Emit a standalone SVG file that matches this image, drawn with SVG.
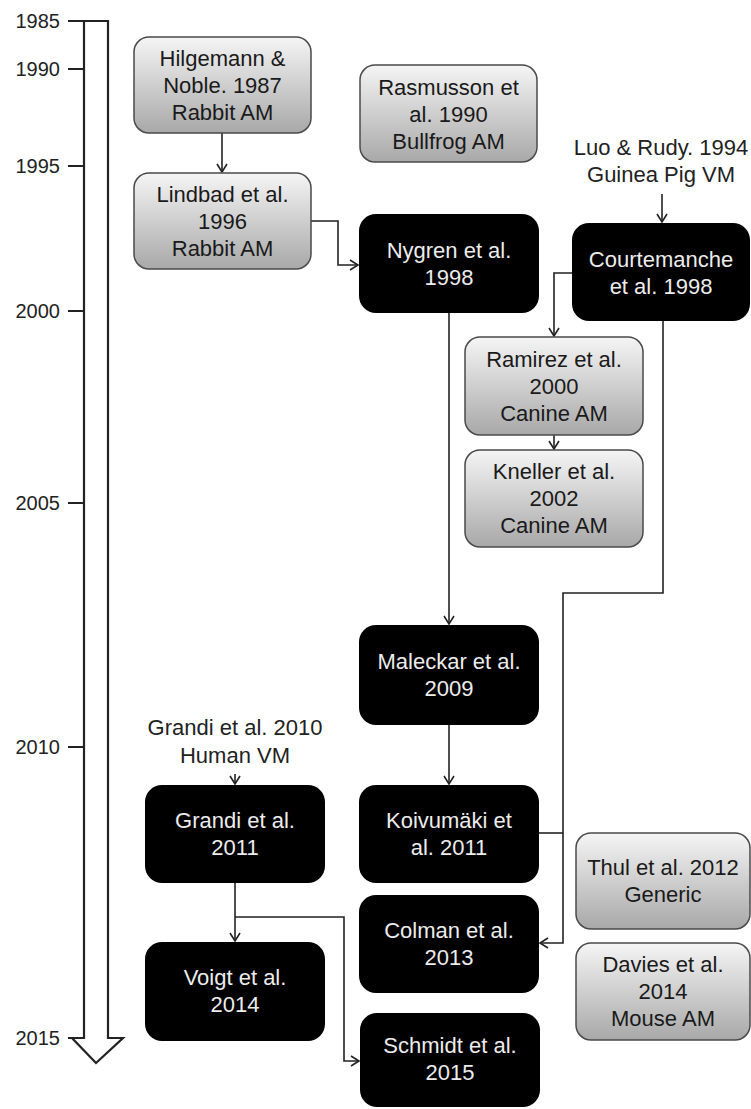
<svg xmlns="http://www.w3.org/2000/svg" width="751" height="1109" viewBox="0 0 751 1109">
<defs>
<linearGradient id="g" x1="0" y1="0" x2="0" y2="1">
<stop offset="0" stop-color="#f5f5f5"/>
<stop offset="1" stop-color="#a8a8a8"/>
</linearGradient>
<marker id="ah" markerUnits="userSpaceOnUse" markerWidth="14" markerHeight="14" refX="9" refY="6" orient="auto">
<path d="M1,1 L9,6 L1,11" fill="none" stroke="#222" stroke-width="1.6"/>
</marker>
<style>
text{font-family:"Liberation Sans",Arial,sans-serif;font-size:22px;text-anchor:middle}
.grey rect{fill:url(#g);stroke:#4a4a4a;stroke-width:1.5}
.grey text{fill:#1a1a1a}
.black rect{fill:#000}
.black text{fill:#ececec}
.yr{font-size:20px;text-anchor:end;fill:#222}
.lbl{fill:#222}
.conn path{fill:none;stroke:#222;stroke-width:1.6}
.axis{fill:none;stroke:#222;stroke-width:2.2}
</style>
</defs>
<rect width="751" height="1109" fill="#fff"/>

<g id="timeline">
<path class="axis" d="M84,21 H108 V1038 H123 L96,1063 L72,1038 H84 Z"/>
<path class="axis" d="M68,21 H84 M68,69 H84 M68,166 H84 M68,311 H84 M68,503 H84 M68,747 H84 M68,1038 H84"/>
<text class="yr" x="60" y="28">1985</text>
<text class="yr" x="60" y="76">1990</text>
<text class="yr" x="60" y="173">1995</text>
<text class="yr" x="60" y="318">2000</text>
<text class="yr" x="60" y="510">2005</text>
<text class="yr" x="60" y="754">2010</text>
<text class="yr" x="60" y="1045">2015</text>
</g>

<g class="conn" id="connectors">
<path d="M222,133 V172" marker-end="url(#ah)"/>
<path d="M311,221 H338 V265 H358" marker-end="url(#ah)"/>
<path d="M662,194 V222" marker-end="url(#ah)"/>
<path d="M572,273 H554 V336" marker-end="url(#ah)"/>
<path d="M554,435 V449" marker-end="url(#ah)"/>
<path d="M449,313 V624" marker-end="url(#ah)"/>
<path d="M663,321 V593 H563 V943 H540" marker-end="url(#ah)"/>
<path d="M539,833 H563"/>
<path d="M449,725 V784" marker-end="url(#ah)"/>
<path d="M235,774 V784" marker-end="url(#ah)"/>
<path d="M235,883 V941" marker-end="url(#ah)"/>
<path d="M235,917 H344 V1061 H359" marker-end="url(#ah)"/>
</g>

<g id="hilgemann" class="grey">
<rect x="134" y="37" width="177" height="96" rx="15"/>
<text x="222.5" y="66">Hilgemann &amp;</text>
<text x="222.5" y="93">Noble. 1987</text>
<text x="222.5" y="120">Rabbit AM</text>
</g>
<g id="rasmusson" class="grey">
<rect x="360" y="65" width="177" height="97" rx="15"/>
<text x="448.5" y="95">Rasmusson et</text>
<text x="448.5" y="122">al. 1990</text>
<text x="448.5" y="149">Bullfrog AM</text>
</g>
<g id="lindbad" class="grey">
<rect x="134" y="173" width="177" height="96" rx="15"/>
<text x="222.5" y="202">Lindbad et al.</text>
<text x="222.5" y="229">1996</text>
<text x="222.5" y="256">Rabbit AM</text>
</g>
<g id="nygren" class="black">
<rect x="359" y="214" width="180" height="99" rx="17"/>
<text x="449" y="258">Nygren et al.</text>
<text x="449" y="285">1998</text>
</g>
<g id="luo-rudy">
<text class="lbl" x="661" y="155">Luo &amp; Rudy. 1994</text>
<text class="lbl" x="661" y="182">Guinea Pig VM</text>
</g>
<g id="courtemanche" class="black">
<rect x="572" y="223" width="178" height="98" rx="17"/>
<text x="661" y="267">Courtemanche</text>
<text x="661" y="294">et al. 1998</text>
</g>
<g id="ramirez" class="grey">
<rect x="465" y="337" width="178" height="98" rx="15"/>
<text x="554" y="367">Ramirez et al.</text>
<text x="554" y="394">2000</text>
<text x="554" y="421">Canine AM</text>
</g>
<g id="kneller" class="grey">
<rect x="465" y="450" width="178" height="97" rx="15"/>
<text x="554" y="479">Kneller et al.</text>
<text x="554" y="506">2002</text>
<text x="554" y="533">Canine AM</text>
</g>
<g id="maleckar" class="black">
<rect x="359" y="625" width="180" height="100" rx="17"/>
<text x="449" y="669">Maleckar et al.</text>
<text x="449" y="696">2009</text>
</g>
<g id="grandi2010">
<text class="lbl" x="235" y="735">Grandi et al. 2010</text>
<text class="lbl" x="235" y="763">Human VM</text>
</g>
<g id="grandi2011" class="black">
<rect x="145" y="785" width="180" height="98" rx="17"/>
<text x="235" y="828">Grandi et al.</text>
<text x="235" y="855">2011</text>
</g>
<g id="koivumaki" class="black">
<rect x="359" y="785" width="180" height="98" rx="17"/>
<text x="449" y="828">Koivumäki et</text>
<text x="449" y="855">al. 2011</text>
</g>
<g id="thul" class="grey">
<rect x="576" y="833" width="174" height="96" rx="15"/>
<text x="663" y="875">Thul et al. 2012</text>
<text x="663" y="902">Generic</text>
</g>
<g id="colman" class="black">
<rect x="359" y="895" width="180" height="98" rx="17"/>
<text x="449" y="938">Colman et al.</text>
<text x="449" y="965">2013</text>
</g>
<g id="voigt" class="black">
<rect x="145" y="942" width="180" height="99" rx="17"/>
<text x="235" y="985">Voigt et al.</text>
<text x="235" y="1012">2014</text>
</g>
<g id="davies" class="grey">
<rect x="576" y="943" width="174" height="97" rx="15"/>
<text x="663" y="972">Davies et al.</text>
<text x="663" y="999">2014</text>
<text x="663" y="1026">Mouse AM</text>
</g>
<g id="schmidt" class="black">
<rect x="360" y="1013" width="180" height="94" rx="17"/>
<text x="450" y="1053">Schmidt et al.</text>
<text x="450" y="1080">2015</text>
</g>
</svg>
